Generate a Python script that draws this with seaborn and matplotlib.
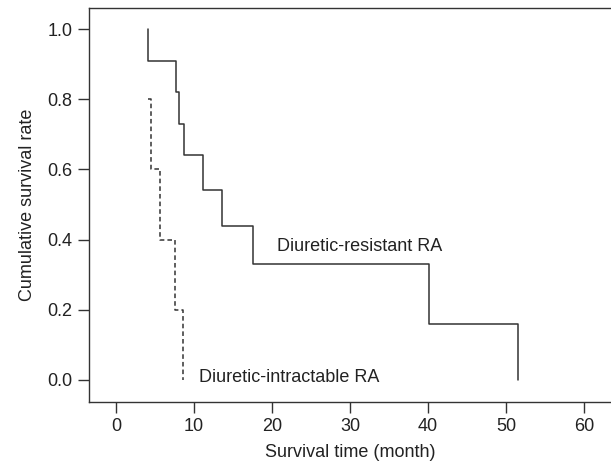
import matplotlib
matplotlib.use("Agg")
import matplotlib.pyplot as plt
import seaborn as sns
import pandas as pd

# Kaplan-Meier steps
resist_time = [4.06, 4.06, 7.7, 8.1, 8.7, 11.2, 13.55, 17.5, 40.1, 51.6]
resist_surv = [1.0, 0.91, 0.82, 0.73, 0.64, 0.54, 0.44, 0.33, 0.16, 0.0]
intract_time = [4.1, 4.45, 5.6, 7.5, 8.6]
intract_surv = [0.8, 0.6, 0.4, 0.2, 0.0]

x_ticks = [0, 10, 20, 30, 40, 50, 60]
y_ticks = [0.0, 0.2, 0.4, 0.6, 0.8, 1.0]

sns.set_style("ticks")
plt.rcParams['font.family'] = ['Liberation Sans Narrow', 'Liberation Sans', 'DejaVu Sans']

fig = plt.figure(figsize=(6.11, 4.69), dpi=100)
ax = fig.add_axes([0.1457, 0.1435, 0.8543, 0.8395])

df_r = pd.DataFrame({'t': resist_time, 's': resist_surv})
df_i = pd.DataFrame({'t': intract_time, 's': intract_surv})

sns.lineplot(data=df_r, x='t', y='s', ax=ax, estimator=None, sort=False,
             drawstyle='steps-post', color='#333333', linewidth=1.1)
sns.lineplot(data=df_i, x='t', y='s', ax=ax, estimator=None, sort=False,
             drawstyle='steps-post', color='#333333', linewidth=1.1, linestyle=(0, (3, 2)))

ax.text(20.7, 0.38, 'Diuretic-resistant RA', fontsize=13, va='center', ha='left', color='#222222')
ax.text(10.6, 0.006, 'Diuretic-intractable RA', fontsize=13, va='center', ha='left', color='#222222')

ax.set_xlim(-3.46, 63.46)
ax.set_ylim(-0.062, 1.06)
ax.set_xticks(x_ticks)
ax.set_yticks(y_ticks)
ax.set_yticklabels([f'{v:.1f}' for v in y_ticks])
ax.tick_params(length=8, width=1, labelsize=13, pad=4, colors='#333333', labelcolor='#222222')

ax.set_xlabel('Survival time (month)', fontsize=13, color='#222222', labelpad=6)
ax.set_ylabel('Cumulative survival rate', fontsize=13, color='#222222', labelpad=8)

ax.spines['right'].set_visible(False)
for s in ['left', 'top', 'bottom']:
    ax.spines[s].set_color('#333333')
    ax.spines[s].set_linewidth(1)

fig.savefig('out.png', dpi=100)
